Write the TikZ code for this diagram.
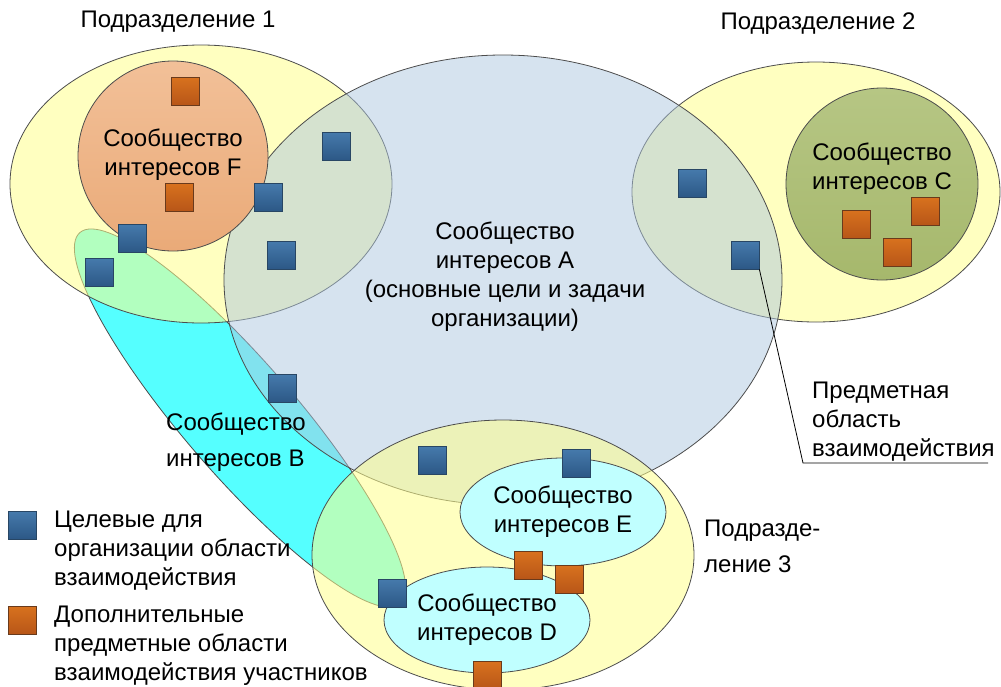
\documentclass[tikz,border=0pt]{standalone}
\usepackage{fontspec}
\setmainfont{Liberation Sans}
\definecolor{deptyellow}{RGB}{255,255,140}
\definecolor{coreblue}{RGB}{173,199,223}
\definecolor{commB}{RGB}{85,255,255}
\definecolor{commDE}{RGB}{192,255,255}
\definecolor{commFtop}{RGB}{242,192,152}
\definecolor{commFbot}{RGB}{234,170,120}
\definecolor{commCtop}{RGB}{182,198,132}
\definecolor{commCbot}{RGB}{166,184,108}
\definecolor{sqbluetop}{RGB}{70,122,172}
\definecolor{sqbluebot}{RGB}{44,88,134}
\definecolor{sqblueedge}{RGB}{40,70,100}
\definecolor{sqorgtop}{RGB}{216,114,30}
\definecolor{sqorgbot}{RGB}{184,86,24}
\definecolor{sqorgedge}{RGB}{105,58,28}
\begin{document}
\begin{tikzpicture}[x=1pt,y=-1pt,
  outline/.style={draw=black!70, line width=0.8pt},
  dept/.style={outline, fill=deptyellow, fill opacity=0.55},
  core/.style={outline, fill=coreblue, fill opacity=0.5},
  target/.style={rectangle, minimum size=28pt, inner sep=0pt, draw=sqblueedge,
    line width=0.8pt, top color=sqbluetop, bottom color=sqbluebot},
  extra/.style={rectangle, minimum size=28pt, inner sep=0pt, draw=sqorgedge,
    line width=0.8pt, top color=sqorgtop, bottom color=sqorgbot},
  lbl/.style={inner sep=0pt, font=\fontsize{24}{29}\selectfont, align=center},
  lblwide/.style={inner sep=0pt, font=\fontsize{24}{36}\selectfont, align=left},
  lblleft/.style={inner sep=0pt, font=\fontsize{24}{29}\selectfont, align=left},
  leader/.style={draw=black, line width=0.8pt}
]
\useasboundingbox (0,0) rectangle (1001,686);

% community B: long tilted ellipse, underneath the departments
\draw[outline, fill=commB, rotate around={-49.2:(240,418)}]
  (240,418) ellipse [x radius=245, y radius=56];

% departments 1 and 2
\draw[dept] (201,184) ellipse [x radius=191, y radius=139];
\draw[dept] (816,192) ellipse [x radius=184, y radius=130];

% community A: the organisation's core area
\draw[core] (503,280) ellipse [x radius=279, y radius=225];

% department 3
\draw[dept] (503,555) ellipse [x radius=191, y radius=135];

% communities F, C, E, D
\draw[outline, top color=commFtop, bottom color=commFbot] (173,156) circle [radius=95];
\draw[outline, top color=commCtop, bottom color=commCbot] (882,184) circle [radius=96];
\draw[outline, fill=commDE] (563,512) ellipse [x radius=103, y radius=54];
\draw[outline, fill=commDE] (487,620) ellipse [x radius=103, y radius=53];

% target subject areas
\node[target] (t1) at (336,146) {};
\node[target] (t2) at (268,197) {};
\node[target] (t3) at (281,255) {};
\node[target] (t4) at (132,238) {};
\node[target] (t5) at (99,272) {};
\node[target] (t6) at (692,183) {};
\node[target] (t7) at (745,255) {};
\node[target] (t8) at (282,388) {};
\node[target] (t9) at (432,460) {};
\node[target] (t10) at (576,463) {};
\node[target] (t11) at (392,593) {};

% additional subject areas of participants
\node[extra] (e1) at (185,91) {};
\node[extra] (e2) at (179,197) {};
\node[extra] (e3) at (856,224) {};
\node[extra] (e4) at (925,211) {};
\node[extra] (e5) at (897,252) {};
\node[extra] (e6) at (528,565) {};
\node[extra] (e7) at (569,579) {};
\node[extra] (e8) at (487,675) {};

% labels
\node[lbl] (d1) at (178,22) {Подразделение 1};
\node[lbl] (d2) at (818,24) {Подразделение 2};
\node[lblwide, anchor=west] (d3) at (704,546) {Подразде-\\ление 3};
\node[lbl] (cF) at (173,155) {Сообщество\\интересов F};
\node[lbl] (cC) at (882,169) {Сообщество\\интересов C};
\node[lbl] (cA) at (505,277) {Сообщество\\интересов A\\(основные цели и задачи\\организации)};
\node[lblwide, anchor=west] (cB) at (166,442) {Сообщество\\интересов B};
\node[lbl] (cE) at (563,512) {Сообщество\\интересов E};
\node[lbl] (cD) at (487,620) {Сообщество\\интересов D};

% subject area callout
\node[lblleft, anchor=west] (pa) at (812,422) {Предметная\\область\\взаимодействия};
\coordinate (bend) at (803,463);
\coordinate (tail) at (988,463);
\draw[leader] (t7.south east) -- (bend) -- (tail);

% legend
\node[target] (lg1) at (22,525) {};
\node[extra] (lg2) at (22,620) {};
\node[lblleft, anchor=west] (lt1) at (54,551) {Целевые для\\организации области\\взаимодействия};
\node[lblleft, anchor=west] (lt2) at (54,646) {Дополнительные\\предметные области\\взаимодействия участников};
\end{tikzpicture}
\end{document}
